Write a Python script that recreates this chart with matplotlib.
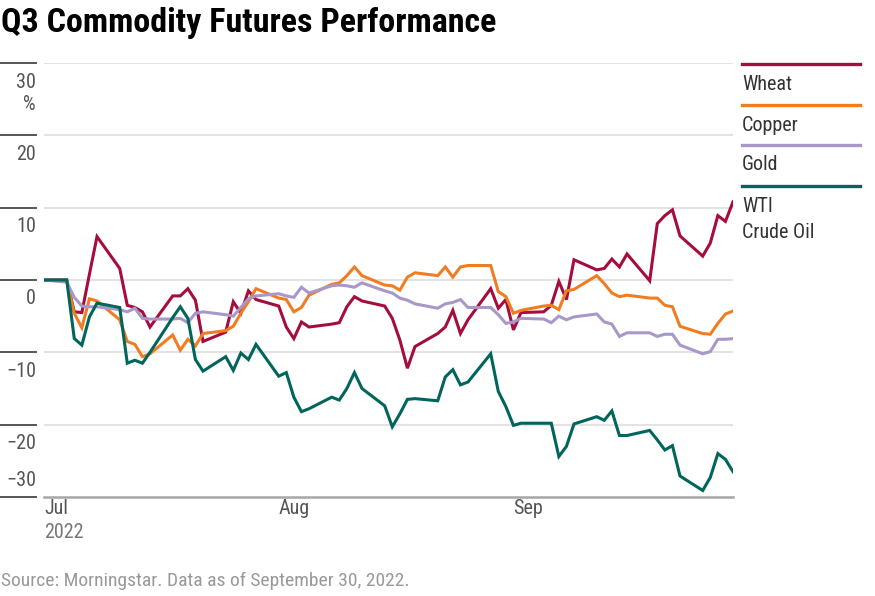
import matplotlib
matplotlib.use("Agg")
import matplotlib.pyplot as plt
import matplotlib.dates as mdates
import matplotlib.transforms as mtransforms
from matplotlib.lines import Line2D
import pandas as pd

plt.rcParams['font.family'] = ['Roboto Condensed', 'Liberation Sans Narrow', 'Roboto', 'DejaVu Sans']

# ---------------- data ----------------
dates = pd.bdate_range("2022-07-01", "2022-09-30")  # weekdays Q3 2022

wheat = [0, 0, -4.4, -4.5, 0.8, 6.0, 1.6, -3.5, -3.8, -4.4, -6.5, -2.2, -2.2, -1.2, -2.8, -8.5, -7.2, -3.0, -4.6, -1.5, -2.7,
         -3.6, -6.5, -8.1, -5.8, -6.5, -6.1, -5.9, -3.7, -2.3, -2.9, -3.6, -5.3, -8.3, -12.2, -9.2, -7.4, -6.5, -4.2, -7.4, -5.5, -1.2, -3.9, -2.7,
         -6.9, -4.5, -4.4, -3.5, -0.2, -2.7, 2.8, 1.4, 1.6, 2.9, 1.8, 3.6, -0.1, 7.8, 8.9, 9.7, 6.1, 3.3, 5.1, 8.9, 8.1, 10.8]
copper = [0, -0.1, -4.6, -6.6, -2.6, -2.9, -5.5, -8.5, -8.9, -10.6, -10.2, -7.6, -9.7, -8.2, -9.1, -7.4, -7.0, -6.4, -4.6, -3.0, -1.2,
          -2.5, -2.7, -4.4, -3.8, -2.1, -0.6, -0.4, 0.6, 1.8, 0.6, -0.7, -0.8, -1.4, 0.4, 1.0, 0.6, 1.8, 0.4, 1.8, 2.0, 2.0, -1.6, -2.3,
          -4.6, -4.2, -3.6, -3.5, -4.1, -1.5, -1.3, 0.6, -0.5, -1.8, -2.3, -2.1, -2.5, -2.5, -3.5, -3.7, -6.4, -7.4, -7.5, -6.0, -4.7, -4.3]
gold = [0, -0.3, -2.4, -3.6, -3.7, -3.7, -4.1, -4.4, -3.9, -5.3, -5.4, -5.4, -5.3, -5.9, -4.6, -4.4, -4.8, -5.0, -3.8, -2.6, -2.2,
        -1.9, -2.2, -2.4, -1.0, -1.8, -0.8, -0.7, -0.8, -1.0, -0.4, -1.5, -1.8, -2.5, -2.8, -3.3, -3.9, -3.3, -3.1, -2.7, -3.8, -3.8, -4.8, -6.0,
        -5.8, -5.3, -5.4, -5.9, -5.0, -5.5, -5.1, -4.7, -5.8, -6.1, -7.8, -7.3, -7.3, -7.8, -7.5, -7.5, -9.0, -10.2, -9.9, -8.2, -8.2, -8.1]
wti = [0, 0, -8.1, -9.0, -5.1, -3.2, -3.8, -11.5, -11.1, -11.5, -10.0, -5.2, -3.7, -5.3, -11.0, -12.6, -10.6, -12.5, -10.1, -11.0, -8.9,
       -13.3, -12.8, -16.2, -18.2, -17.8, -16.2, -16.6, -15.0, -12.8, -15.0, -17.4, -20.3, -18.5, -16.5, -16.4, -16.7, -13.4, -12.4, -14.5, -14.1, -10.2, -15.4, -17.5,
       -20.1, -19.8, -19.8, -19.8, -24.4, -23.0, -19.9, -18.9, -19.4, -18.1, -21.5, -21.5, -20.8, -22.1, -23.5, -22.9, -27.1, -29.1, -27.3, -24.0, -24.8, -26.5]

series_names = ["Wheat", "Copper", "Gold", "WTI\nCrude Oil"]
series_values = [wheat, copper, gold, wti]
series_colors = ["#A50D3C", "#F07D22", "#A898C9", "#00655B"]

y_ticks = [30, 20, 10, 0, -10, -20, -30]
y_tick_labels = ["30", "20", "10", "0", "\u221210", "\u221220", "\u221230"]
x_ticks = ["2022-07-01", "2022-08-01", "2022-09-01"]
x_tick_labels = ["Jul", "Aug", "Sep"]

title = "Q3 Commodity Futures Performance"
source = "Source: Morningstar. Data as of September 30, 2022."

# ---------------- figure ----------------
W, H = 875, 596
fig = plt.figure(figsize=(W / 100, H / 100), dpi=100)
fig.patch.set_facecolor("white")

def fx(px):
    return px / W

def fy(py):
    return 1 - py / H

FS = 14.5

ax = fig.add_axes([fx(44), fy(497), fx(733) - fx(44), fy(63) - fy(497)])
ax.set_ylim(-30, 30)
ax.set_xlim(pd.Timestamp("2022-07-01"), pd.Timestamp("2022-09-30"))
for s in ax.spines.values():
    s.set_visible(False)
ax.set_xticks([])
ax.set_yticks([])

# gridlines
for v in y_ticks:
    if v == -30:
        ax.axhline(v, color="#a6a6a6", lw=1.8, zorder=1, clip_on=False)
    else:
        ax.axhline(v, color="#e3e3e3", lw=1.5, zorder=1)

# left dashes and labels
blend = mtransforms.blended_transform_factory(fig.transFigure, ax.transData)
for v, lab in zip(y_ticks, y_tick_labels):
    ln = Line2D([0, fx(36)], [v, v], transform=blend, color="#555555", lw=1.4, clip_on=False)
    fig.add_artist(ln)
    off = 19 if v != -30 else -16
    ax.annotate(lab, xy=(fx(36), v), xycoords=blend, xytext=(0, -off * 0.72), textcoords="offset points",
                ha="right", va="center", fontsize=FS, color="#555555", annotation_clip=False)
ax.annotate("%", xy=(fx(36), 30), xycoords=blend, xytext=(0, -41 * 0.72), textcoords="offset points",
            ha="right", va="center", fontsize=FS, color="#555555", annotation_clip=False)

# x labels
blendx = mtransforms.blended_transform_factory(ax.transData, fig.transFigure)
for d, lab in zip(x_ticks, x_tick_labels):
    xd = mdates.date2num(pd.Timestamp(d))
    ax.text(xd, fy(508), lab, transform=blendx, ha="left", va="center", fontsize=FS, color="#555555")
ax.text(mdates.date2num(pd.Timestamp(x_ticks[0])), fy(533), "2022", transform=blendx, ha="left", va="center",
        fontsize=FS, color="#777777")

# series
for vals, col in zip(series_values, series_colors):
    ax.plot(dates, vals, color=col, lw=2.2, solid_joinstyle="miter", zorder=3)

# legend
leg_y = [64, 105, 145, 186]
for name, col, ly in zip(series_names, series_colors, leg_y):
    fig.add_artist(Line2D([fx(742), fx(860)], [fy(ly), fy(ly)], color=col, lw=2.4, transform=fig.transFigure))
    for i, t in enumerate(name.split("\n")):
        fig.text(fx(742), fy(ly + 20 + 27 * i), t, ha="left", va="center", fontsize=FS, color="#333333")

# title and source
fig.text(fx(1), fy(32), title, ha="left", va="baseline", fontsize=24.5, fontweight="bold", color="#000000")
fig.text(fx(1), fy(581), source, ha="left", va="center", fontsize=14, color="#999999")

fig.savefig("out.png", dpi=100, facecolor="white")
